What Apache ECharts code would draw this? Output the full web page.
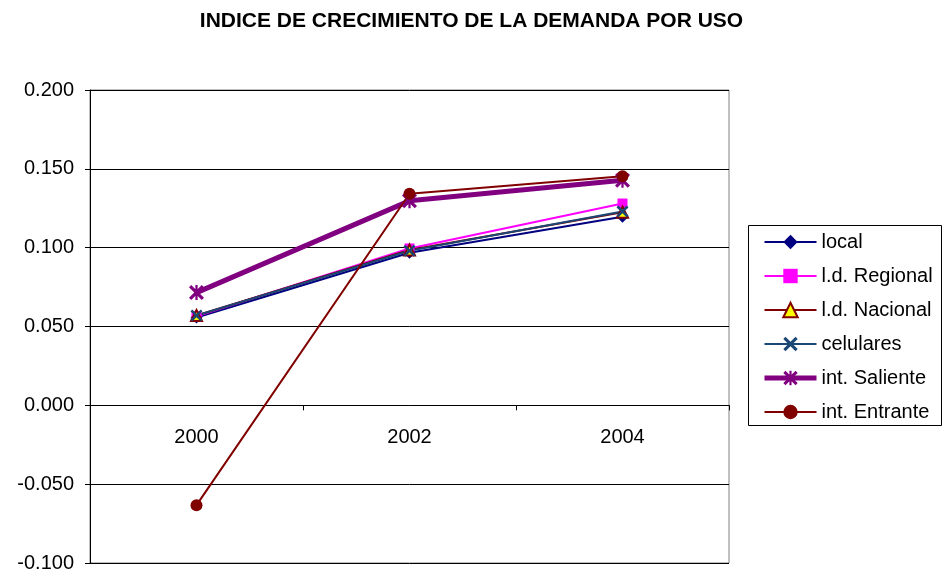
<!DOCTYPE html>
<html><head><meta charset="utf-8">
<script src="https://cdn.jsdelivr.net/npm/echarts@6/dist/echarts.min.js"></script>
<style>html,body{margin:0;padding:0;background:#fff}#c{width:943px;height:573px}</style>
</head><body><div id="c"></div>
<script>
const titleText = 'INDICE DE CRECIMIENTO DE LA DEMANDA POR USO';
const categories = ['2000', '2002', '2004'];
const seriesNames = ['local', 'l.d. Regional', 'l.d. Nacional', 'celulares', 'int. Saliente', 'int. Entrante'];
const local = [0.0557, 0.0968, 0.1196];
const ldRegional = [0.0565, 0.0995, 0.1280];
const ldNacional = [0.0570, 0.0985, 0.1225];
const celulares = [0.0570, 0.0980, 0.1230];
const intSaliente = [0.0715, 0.1297, 0.1427];
const intEntrante = [-0.0633, 0.1342, 0.1453];
const yMin = -0.1, yMax = 0.2, yStep = 0.05;

const X_PATH = 'path://M0,3 L3,0 L10,7 L17,0 L20,3 L13,10 L20,17 L17,20 L10,13 L3,20 L0,17 L7,10 Z';
const AST_PATH = 'path://M0,3 L3,0 L10,7 L17,0 L20,3 L13,10 L20,17 L17,20 L10,13 L3,20 L0,17 L7,10 Z M8.5,0 L11.5,0 L11.5,20 L8.5,20 Z';
const FONT = 'Liberation Sans, Arial, sans-serif';

const gridTop = 90, gridBottom = 10, H = 573;
const plotH = H - gridTop - gridBottom;
const zeroOffset = -plotH * (0 - yMin) / (yMax - yMin);

const chart = echarts.init(document.getElementById('c'), null, {renderer: 'canvas'});
function mk(name, data, color, lw, symbol, size, extra) {
  return Object.assign({
    name: name, type: 'line', data: data,
    symbol: symbol, symbolSize: size,
    lineStyle: {color: color, width: lw},
    itemStyle: {color: color},
    animation: false
  }, extra || {});
}
chart.setOption({
  animation: false,
  tooltip: {show: false},
  axisPointer: {show: false},
  title: {text: titleText, left: 'center', top: 6,
    textStyle: {fontFamily: FONT, fontSize: 21, fontWeight: 'bold', color: '#000'}},
  grid: {left: 90, right: 214, top: gridTop, bottom: gridBottom, containLabel: false, outerBoundsMode: 'none',
    show: true, borderColor: '#808080', borderWidth: 1, backgroundColor: '#fff'},
  legend: {
    orient: 'vertical', left: 757, top: 227,
    itemWidth: 52, itemHeight: 18, itemGap: 14,
    textStyle: {fontFamily: FONT, fontSize: 20, color: '#000', lineHeight: 20},
    data: seriesNames.map((n, i) => i === 4 ? {name: n, lineStyle: {width: 5}} : {name: n})
  },
  graphic: [{type: 'rect', shape: {x: 748.5, y: 225.5, width: 193, height: 200},
    style: {fill: 'none', stroke: '#000', lineWidth: 1}, z: 0}],
  xAxis: {
    type: 'category', data: categories, boundaryGap: true,
    position: 'bottom', offset: zeroOffset,
    axisPointer: {show: false},
    axisLine: {onZero: false, lineStyle: {color: '#000', width: 1}},
    axisTick: {show: true, length: 5, lineStyle: {color: '#000'}},
    axisLabel: {fontFamily: FONT, fontSize: 20, color: '#000', margin: 22},
    splitLine: {show: false}, splitArea: {show: false}
  },
  yAxis: {
    type: 'value', min: yMin, max: yMax, interval: yStep,
    axisLine: {show: true, lineStyle: {color: '#000'}},
    axisTick: {show: true, length: 5, lineStyle: {color: '#000'}},
    axisLabel: {fontFamily: FONT, fontSize: 20, color: '#000', margin: 16,
      formatter: v => v.toFixed(3)},
    splitLine: {show: true, lineStyle: {color: '#000', width: 1}}
  },
  series: [
    mk(seriesNames[0], local, '#000080', 2, 'diamond', 12),
    mk(seriesNames[1], ldRegional, '#FF00FF', 2, 'rect', 10),
    mk(seriesNames[2], ldNacional, '#800000', 2, 'triangle', 11,
      {itemStyle: {color: '#FFFF00', borderColor: '#800000', borderWidth: 2}}),
    mk(seriesNames[3], celulares, '#1c4673', 2, X_PATH, 12),
    mk(seriesNames[4], intSaliente, '#800080', 5, AST_PATH, 15),
    mk(seriesNames[5], intEntrante, '#800000', 2, 'circle', 12)
  ]
});
</script></body></html>
